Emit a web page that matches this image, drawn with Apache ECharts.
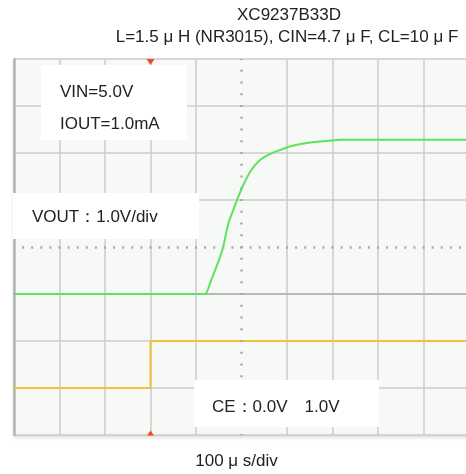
<!DOCTYPE html>
<html><head><meta charset="utf-8">
<script src="https://cdn.jsdelivr.net/npm/echarts@6/dist/echarts.min.js"></script>
<style>html,body{margin:0;padding:0;background:#fff}#c{width:466px;height:474px}</style>
</head><body><div id="c"></div>
<script>
// time in microseconds (100 us/div), voltage in volts (1 V/div)
const voutTime = [0, 420, 425, 431, 442, 453, 460, 471, 482, 493, 504, 519, 537, 559, 581, 610, 647, 691, 720, 850, 1000];
const voutVolt = [0, 0, 0.07, 0.23, 0.51, 0.79, 1.01, 1.50, 1.79, 2.07, 2.32, 2.60, 2.82, 2.96, 3.05, 3.15, 3.22, 3.26, 3.28, 3.28, 3.28];
const ceTime = [0, 300, 300, 1000];
const ceVolt = [0, 0, 1, 1];
const ceOffsetDiv = -2;      // CE trace ground sits two divisions below VOUT ground
const triggerTime = 300;
const titleText = 'XC9237B33D';
const subTitleText = 'L=1.5 μ H (NR3015), CIN=4.7 μ F, CL=10 μ F';
const xAxisName = '100 μ s/div';
const noteIn = ['VIN=5.0V', 'IOUT=1.0mA'];
const noteVout = 'VOUT：1.0V/div';
const noteCe = 'CE：0.0V　1.0V';

const FONT = '"Liberation Sans", Arial, sans-serif';
const xMin = 0, xMax = 1000, xInt = 100;
const yMin = -3, yMax = 5, yInt = 1;

const gridCol = '#cbcbcb';
const xSplitColors = [];
for (let v = xMin; v <= xMax; v += xInt) xSplitColors.push(v === 500 ? 'rgba(0,0,0,0)' : gridCol);
const ySplitColors = [];
for (let v = yMin; v <= yMax; v += yInt) ySplitColors.push(v === 1 ? 'rgba(0,0,0,0)' : gridCol);

const chart = echarts.init(document.getElementById('c'), null, {renderer: 'canvas'});
const FS = 17;
const textStyle = {fontFamily: FONT, fontSize: FS, fill: '#222'};
chart.setOption({
  animation: false,
  grid: {left: 14, top: 59, right: -3, bottom: 39, show: true, backgroundColor: '#f6f9f6', borderWidth: 0,
         outerBoundsMode: 'none', containLabel: false,
         shadowColor: 'rgba(0,0,0,0.18)', shadowBlur: 4, shadowOffsetY: 2},
  xAxis: {type: 'value', min: xMin, max: xMax, interval: xInt,
    axisLabel: {show: false}, axisTick: {show: false},
    axisLine: {show: true, lineStyle: {color: '#b9b9b9', width: 2}},
    splitLine: {show: true, lineStyle: {color: xSplitColors, width: 1.5}},
    name: xAxisName, nameLocation: 'middle', nameGap: 18,
    nameTextStyle: {fontFamily: FONT, fontSize: FS, color: '#222', padding: [0, 10, 0, 0]}},
  yAxis: {type: 'value', min: yMin, max: yMax, interval: yInt,
    axisLabel: {show: false}, axisTick: {show: false},
    axisLine: {show: true, onZero: false, lineStyle: {color: '#b4b4b4', width: 2.5}},
    splitLine: {show: true, lineStyle: {color: ySplitColors, width: 1.5}}},
  series: [
    {type: 'line', data: [], silent: true, z: 1,
     markLine: {silent: true, symbol: 'none', label: {show: false},
       data: [
         {yAxis: 1, lineStyle: {color: '#a8a8a8', width: 2.5, type: [2, 7.1], dashOffset: 1}},
         {xAxis: 500, lineStyle: {color: '#a8a8a8', width: 2.5, type: [2, 9.75], dashOffset: 1}}
       ]}},
    {type: 'line', name: 'CE', showSymbol: false, z: 3,
     data: ceTime.map((t, i) => [t, ceVolt[i] + ceOffsetDiv]),
     lineStyle: {color: '#f0c23c', width: 2}, itemStyle: {color: '#f0c23c'},
     markPoint: {silent: true, label: {show: false}, itemStyle: {color: '#f24a1c'},
       data: [
         {coord: [triggerTime, yMax], symbol: 'triangle', symbolRotate: 180, symbolSize: [8, 6], symbolOffset: [0, 3]},
         {coord: [triggerTime, yMin], symbol: 'triangle', symbolSize: [7, 5], symbolOffset: [0, -2]}
       ]}},
    {type: 'line', name: 'VOUT', showSymbol: false, z: 4,
     data: voutTime.map((t, i) => [t, voutVolt[i]]),
     smooth: 0.2,
     lineStyle: {color: '#5ee35e', width: 2}, itemStyle: {color: '#5ee35e'}}
  ],
  graphic: [
    {type: 'text', x: 289, y: 15, style: Object.assign({text: titleText, align: 'center', verticalAlign: 'middle'}, textStyle)},
    {type: 'text', x: 287, y: 37, style: Object.assign({text: subTitleText, align: 'center', verticalAlign: 'middle'}, textStyle)},
    {type: 'rect', shape: {x: 41, y: 65, width: 146, height: 75}, style: {fill: '#fff'}, z: 10},
    {type: 'text', x: 60, y: 92, z: 11, style: Object.assign({text: noteIn[0], verticalAlign: 'middle'}, textStyle)},
    {type: 'text', x: 60, y: 124, z: 11, style: Object.assign({text: noteIn[1], verticalAlign: 'middle'}, textStyle)},
    {type: 'rect', shape: {x: 13, y: 193, width: 186, height: 46}, style: {fill: '#fff'}, z: 10},
    {type: 'text', x: 32, y: 217, z: 11, style: Object.assign({text: noteVout, verticalAlign: 'middle'}, textStyle)},
    {type: 'rect', shape: {x: 194, y: 380, width: 185, height: 47}, style: {fill: '#fff'}, z: 10},
    {type: 'text', x: 212, y: 407, z: 11, style: Object.assign({text: noteCe, verticalAlign: 'middle'}, textStyle)}
  ]
});
</script></body></html>
